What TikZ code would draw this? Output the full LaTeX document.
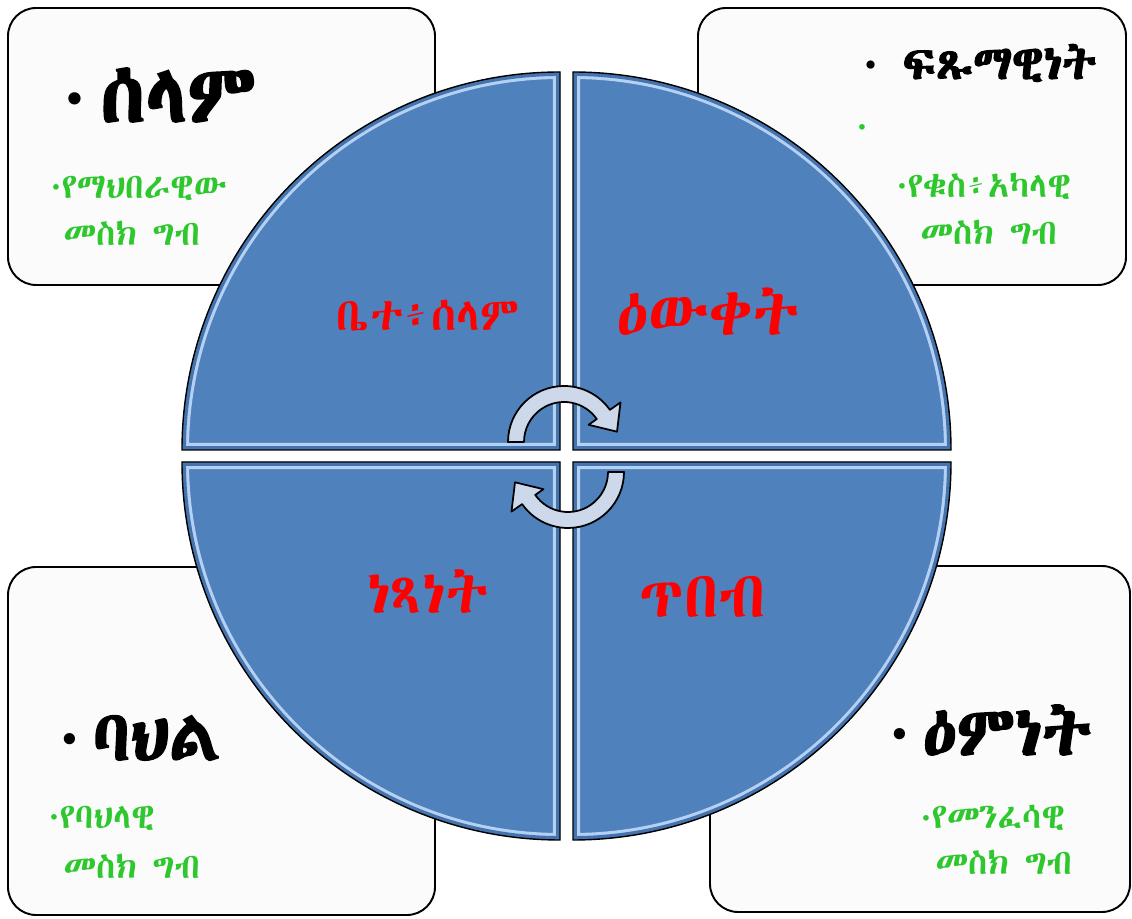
\documentclass[tikz,border=0pt]{standalone}
\usepackage{fontspec}
\IfFontExistsTF{Abyssinica SIL}{\newfontfamily\eth{Abyssinica SIL}\newfontfamily\ethb[FakeBold=2.5]{Abyssinica SIL}}{\IfFontExistsTF{FreeSerif}{\newfontfamily\eth{FreeSerif}\newfontfamily\ethb[FakeBold=2.5]{FreeSerif}}{\newfontfamily\eth{FreeSans}\newfontfamily\ethb[FakeBold=2.5]{FreeSans}}}
\newfontfamily\bul{DejaVu Sans}
\definecolor{qblue}{HTML}{4F81BD}
\definecolor{qlight}{HTML}{B4D0F2}
\definecolor{qdark}{HTML}{3F6DA6}
\definecolor{tgreen}{HTML}{2EC82E}
\definecolor{arrowfill}{HTML}{CDD8EA}
\definecolor{boxfill}{HTML}{FBFBFB}
\newcommand\quarterpiece[3]{%
  \fill[qblue] (#1) -- ++(#2:378) arc[start angle=#2,end angle=#3,radius=378] -- cycle;
  \begin{scope}
    \clip (#1) -- ++(#2:378) arc[start angle=#2,end angle=#3,radius=378] -- cycle;
    \draw[line width=8pt, qlight] (#1) -- ++(#2:378) arc[start angle=#2,end angle=#3,radius=378] -- cycle;
    \draw[line width=4.5pt, qdark!70!qblue] (#1) -- ++(#2:378) arc[start angle=#2,end angle=#3,radius=378] -- cycle;
  \end{scope}
  \draw[line width=0.8pt] (#1) -- ++(#2:378) arc[start angle=#2,end angle=#3,radius=378] -- cycle;
}
\newcommand\cyclearrowpath{%
  \filldraw[cyclearrow] ([shift={(564,477)}]180:56) arc[start angle=180,end angle=35,radius=56] -- ([shift={(564,477)}]35:69) -- ([shift={(564,477)}]11:54) -- ([shift={(564,477)}]35:30) -- ([shift={(564,477)}]35:40) arc[start angle=35,end angle=180,radius=40] -- cycle;
}
\newcommand\smallbullet{\raisebox{2pt}{\bul\fontsize{11pt}{11pt}\selectfont •}}
\tikzset{
  box/.style={draw=black, line width=1.1pt, rounded corners=16pt, fill=boxfill},
  bigtext/.style={anchor=west, inner sep=0pt, text=black},
  greentext/.style={anchor=west, inner sep=0pt, text=tgreen, font=\eth\fontsize{20pt}{20pt}\selectfont},
  redtext/.style={inner sep=0pt, text=red},
  cyclearrow/.style={draw=black, line width=1pt, fill=arrowfill, line join=round},
}
\begin{document}
\begin{tikzpicture}[x=0.02cm,y=0.02cm]
\useasboundingbox (0,0) rectangle (1132,919);
\fill[white] (0,0) rectangle (1132,919);
% boxes
\draw[box] (8,634) rectangle (435,911);
\draw[box] (698,634) rectangle (1126,911);
\draw[box] (8,4) rectangle (435,352);
\draw[box] (710,7) rectangle (1130,353);
% quarters
\quarterpiece{560,469}{180}{90}
\quarterpiece{573,469}{90}{0}
\quarterpiece{560,457}{180}{270}
\quarterpiece{573,457}{0}{-90}
% cycle arrows
\cyclearrowpath
\begin{scope}[rotate around={180:(566,462)}]
\cyclearrowpath
\end{scope}
% red labels
\node[redtext, font=\eth\fontsize{26pt}{26pt}\selectfont] (q1) at (428,603) {ቤተ፥ሰላም};
\node[redtext, font=\eth\fontsize{37pt}{37pt}\selectfont] (q2) at (708,607) {ዕውቀት};
\node[redtext, font=\eth\fontsize{34pt}{34pt}\selectfont] (q3) at (428,327) {ነጻነት};
\node[redtext, font=\eth\fontsize{37pt}{37pt}\selectfont] (q4) at (703,322) {ጥበብ};
% top-left box
\node[bigtext, font=\ethb\fontsize{46pt}{46pt}\selectfont] (t1) at (62,824) {\raisebox{4pt}{\bul\fontsize{24pt}{24pt}\selectfont •}\,ሰላም};
\node[greentext] (g1a) at (50,731) {\smallbullet የማህበራዊው};
\node[greentext] (g1b) at (63,686) {መስክ ግብ};
% top-right box
\node[bigtext, font=\ethb\fontsize{27pt}{27pt}\selectfont] (t2) at (862,856) {\raisebox{2pt}{\bul\fontsize{16pt}{16pt}\selectfont •}\enspace ፍጹማዊነት};
\node[greentext] (g2d) at (856,788) {\smallbullet};
\node[greentext] (g2a) at (896,733) {\smallbullet የቁስ፥አካላዊ};
\node[greentext] (g2b) at (920,687) {መስክ ግብ};
% bottom-left box
\node[bigtext, font=\ethb\fontsize{40pt}{40pt}\selectfont] (t3) at (58,181) {\raisebox{4pt}{\bul\fontsize{22pt}{22pt}\selectfont •}\,ባህል};
\node[greentext] (g3a) at (48,101) {\smallbullet የባህላዊ};
\node[greentext] (g3b) at (63,53) {መስክ ግብ};
% bottom-right box
\node[bigtext, font=\ethb\fontsize{39pt}{39pt}\selectfont] (t4) at (888,189) {\raisebox{4pt}{\bul\fontsize{22pt}{22pt}\selectfont •}\,ዕምነት};
\node[greentext] (g4a) at (920,101) {\smallbullet የመንፈሳዊ};
\node[greentext] (g4b) at (935,57) {መስክ ግብ};
\end{tikzpicture}
\end{document}
